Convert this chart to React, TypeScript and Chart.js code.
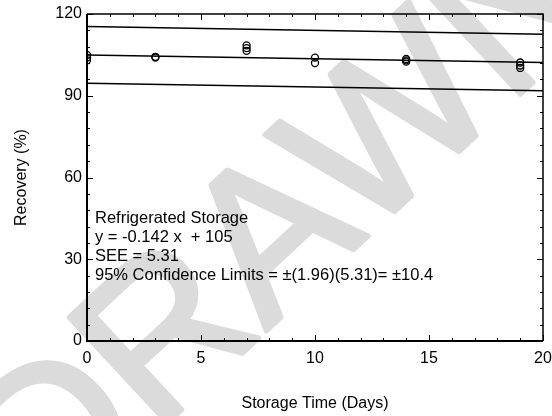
import React, { useEffect, useRef } from "react";
import { Chart, registerables } from "chart.js";

Chart.register(...registerables);

const xTickValues = [0, 5, 10, 15, 20];
const yTickValues = [0, 30, 60, 90, 120];
const sampleDays = [0, 0, 0, 3, 3, 7, 7, 7, 10, 10, 14, 14, 14, 19, 19, 19];
const recoveryValues = [103, 104, 105, 104, 104.3, 106.5, 107.5, 108.5, 104, 102, 102.5, 103, 103.5, 102.2, 101.1, 100.2];
const lineDays = [0, 20];
const fitValues = [105, 102.2];
const upperValues = [115.4, 112.6];
const lowerValues = [94.6, 91.8];
const annotationLines = [
  "Refrigerated Storage",
  "y = -0.142 x  + 105",
  "SEE = 5.31",
  "95% Confidence Limits = \u00B1(1.96)(5.31)= \u00B110.4",
];
const xTitle = "Storage Time (Days)";
const yTitle = "Recovery (%)";
const watermarkText = "DRAWN";

const FONT = "'Liberation Sans', Arial, sans-serif";

const decorPlugin = {
  id: "decor",
  beforeDraw(chart: any) {
    const { ctx } = chart;
    ctx.save();
    ctx.fillStyle = "#ffffff";
    ctx.fillRect(0, 0, chart.width, chart.height);
    ctx.translate(292, 228);
    ctx.rotate(-0.75);
    ctx.font = `210px ${FONT}`;
    ctx.fillStyle = "#dbdbdb";
    ctx.strokeStyle = "#dbdbdb";
    ctx.lineWidth = 5;
    ctx.lineJoin = "round";
    ctx.textAlign = "center";
    ctx.textBaseline = "middle";
    ctx.fillText(watermarkText, 0, 0);
    ctx.strokeText(watermarkText, 0, 0);
    ctx.restore();
  },
  afterDatasetsDraw(chart: any) {
    const { ctx, chartArea } = chart;
    const xs = chart.scales.x;
    const ys = chart.scales.y;
    const { left, right, top, bottom } = chartArea;
    ctx.save();
    ctx.strokeStyle = "#000";
    ctx.lineWidth = 1;
    for (let v = xs.min; v <= xs.max + 1e-9; v += 1) {
      const px = Math.round(xs.getPixelForValue(v)) + 0.5;
      const len = v % 5 === 0 ? 6 : 3;
      ctx.beginPath();
      ctx.moveTo(px, bottom);
      ctx.lineTo(px, bottom - len);
      ctx.moveTo(px, top);
      ctx.lineTo(px, top + len);
      ctx.stroke();
    }
    for (let v = ys.min; v <= ys.max + 1e-9; v += 6) {
      const py = Math.round(ys.getPixelForValue(v)) + 0.5;
      const len = v % 30 === 0 ? 6 : 3;
      ctx.beginPath();
      ctx.moveTo(left, py);
      ctx.lineTo(left + len, py);
      ctx.moveTo(right, py);
      ctx.lineTo(right - len, py);
      ctx.stroke();
    }
    ctx.lineWidth = 1.5;
    ctx.beginPath();
    ctx.moveTo(left, top);
    ctx.lineTo(right, top);
    ctx.lineTo(right, bottom);
    ctx.stroke();
    ctx.lineWidth = 2;
    ctx.beginPath();
    ctx.moveTo(left, top);
    ctx.lineTo(left, bottom);
    ctx.lineTo(right, bottom);
    ctx.stroke();
    ctx.fillStyle = "#000";
    ctx.font = `16.5px ${FONT}`;
    ctx.textAlign = "left";
    ctx.textBaseline = "middle";
    annotationLines.forEach((t, i) => ctx.fillText(t, 95, 218 + i * 19.2));
    ctx.font = `16px ${FONT}`;
    ctx.textAlign = "center";
    ctx.fillText(xTitle, (left + right) / 2, 404);
    ctx.save();
    ctx.translate(22, (top + bottom) / 2);
    ctx.rotate(-Math.PI / 2);
    ctx.fillText(yTitle, 0, 0);
    ctx.restore();
    ctx.restore();
  },
};

export default function App() {
  const ref = useRef<HTMLCanvasElement>(null);
  useEffect(() => {
    document.body.style.margin = "0";
    const lineData = (vals: number[]) => lineDays.map((d, i) => ({ x: d, y: vals[i] }));
    const lineDs = (vals: number[]) => ({
      type: "line" as const,
      data: lineData(vals),
      borderColor: "#000",
      borderWidth: 1.5,
      pointRadius: 0,
      fill: false,
      tension: 0,
    });
    const chart = new Chart(ref.current!, {
      type: "scatter",
      data: {
        datasets: [
          {
            data: sampleDays.map((d, i) => ({ x: d, y: recoveryValues[i] })),
            pointStyle: "circle",
            pointRadius: 3.5,
            borderColor: "#000",
            borderWidth: 1.3,
            backgroundColor: "rgba(0,0,0,0)",
          },
          lineDs(fitValues) as any,
          lineDs(upperValues) as any,
          lineDs(lowerValues) as any,
        ],
      },
      options: {
        responsive: false,
        animation: false,
        layout: { padding: { top: 14, right: 9, left: 0, bottom: 0 } },
        plugins: { legend: { display: false }, tooltip: { enabled: false } },
        scales: {
          x: {
            type: "linear",
            min: 0,
            max: 20,
            afterFit: (s: any) => { s.height = 75; s.paddingLeft = 0; s.paddingRight = 0; },
            afterBuildTicks: (s: any) => { s.ticks = xTickValues.map((v) => ({ value: v })); },
            grid: { display: false, drawTicks: false },
            border: { display: false },
            ticks: { color: "#000", font: { family: FONT, size: 16 }, padding: 8, maxRotation: 0 },
          },
          y: {
            type: "linear",
            min: 0,
            max: 120,
            afterFit: (s: any) => { s.width = 87; s.paddingTop = 0; s.paddingBottom = 0; },
            afterBuildTicks: (s: any) => { s.ticks = yTickValues.map((v) => ({ value: v })); },
            grid: { display: false, drawTicks: false },
            border: { display: false },
            ticks: { color: "#000", font: { family: FONT, size: 16 }, padding: 5 },
          },
        },
      },
      plugins: [decorPlugin],
    });
    return () => chart.destroy();
  }, []);
  return <canvas ref={ref} width={552} height={416} style={{ display: "block" }} />;
}
